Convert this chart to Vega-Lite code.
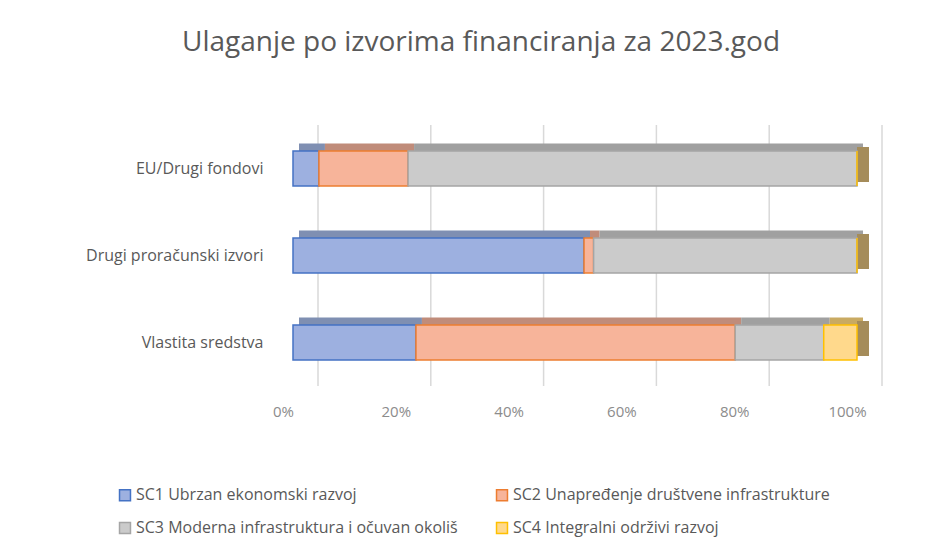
{
  "$schema": "https://vega.github.io/schema/vega-lite/v6.json",
  "width": 564,
  "height": 261,
  "autosize": "none",
  "padding": {"left": 293, "top": 125, "right": 94, "bottom": 162},
  "background": "white",
  "title": {
    "text": "Ulaganje po izvorima financiranja za 2023.god",
    "fontSize": 28,
    "font": "Open Sans",
    "fontWeight": "normal",
    "color": "#595959",
    "anchor": "middle",
    "dx": -94,
    "offset": 67
  },
  "config": {
    "view": {"stroke": null},
    "font": "Open Sans",
    "axis": {"labelColor": "#595959", "labelFontSize": 16, "domain": false, "ticks": false, "grid": false, "title": null}
  },
  "datasets": {
    "bars": [
      {"izvor": "EU/Drugi fondovi", "sc": "SC1 Ubrzan ekonomski razvoj", "pct": 4.6},
      {"izvor": "EU/Drugi fondovi", "sc": "SC2 Unapređenje društvene infrastrukture", "pct": 15.8},
      {"izvor": "EU/Drugi fondovi", "sc": "SC3 Moderna infrastruktura i očuvan okoliš", "pct": 79.6},
      {"izvor": "EU/Drugi fondovi", "sc": "SC4 Integralni održivi razvoj", "pct": 0},
      {"izvor": "Drugi proračunski izvori", "sc": "SC1 Ubrzan ekonomski razvoj", "pct": 51.6},
      {"izvor": "Drugi proračunski izvori", "sc": "SC2 Unapređenje društvene infrastrukture", "pct": 1.7},
      {"izvor": "Drugi proračunski izvori", "sc": "SC3 Moderna infrastruktura i očuvan okoliš", "pct": 46.7},
      {"izvor": "Drugi proračunski izvori", "sc": "SC4 Integralni održivi razvoj", "pct": 0},
      {"izvor": "Vlastita sredstva", "sc": "SC1 Ubrzan ekonomski razvoj", "pct": 21.8},
      {"izvor": "Vlastita sredstva", "sc": "SC2 Unapređenje društvene infrastrukture", "pct": 56.6},
      {"izvor": "Vlastita sredstva", "sc": "SC3 Moderna infrastruktura i očuvan okoliš", "pct": 15.7},
      {"izvor": "Vlastita sredstva", "sc": "SC4 Integralni održivi razvoj", "pct": 5.9}
    ],
    "grid": [{"v": 0}, {"v": 20}, {"v": 40}, {"v": 60}, {"v": 80}, {"v": 100}],
    "ends": [
      {"izvor": "EU/Drugi fondovi", "v": 100},
      {"izvor": "Drugi proračunski izvori", "v": 100},
      {"izvor": "Vlastita sredstva", "v": 100}
    ]
  },
  "layer": [
    {
      "data": {"name": "grid"},
      "mark": {"type": "rule", "color": "#D9D9D9", "strokeWidth": 1.5, "xOffset": 25},
      "encoding": {
        "x": {"field": "v", "type": "quantitative", "scale": {"domain": [0, 100]},
          "axis": {"values": [0, 20, 40, 60, 80, 100], "labelExpr": "datum.value + '%'", "labelColor": "#8C8C8C", "labelFontSize": 15, "labelPadding": 18, "labelOffset": -10, "labelFlush": false}}
      }
    },
    {
      "data": {"name": "bars"},
      "mark": {"type": "bar", "height": 8, "yOffset": -21, "xOffset": 6, "strokeWidth": 1},
      "encoding": {
        "y": {"field": "izvor", "type": "nominal", "sort": ["EU/Drugi fondovi", "Drugi proračunski izvori", "Vlastita sredstva"], "scale": {"paddingInner": 0.6, "paddingOuter": 0.3}, "axis": {"labelPadding": 30}},
        "x": {"field": "pct", "type": "quantitative", "stack": "zero"},
        "fill": {"field": "sc", "type": "nominal", "legend": null,
          "scale": {"domain": ["SC1 Ubrzan ekonomski razvoj", "SC2 Unapređenje društvene infrastrukture", "SC3 Moderna infrastruktura i očuvan okoliš", "SC4 Integralni održivi razvoj"], "range": ["#7F8FB2", "#C08C7A", "#A0A0A0", "#C9AA62"]}}
      }
    },
    {
      "data": {"name": "ends"},
      "mark": {"type": "tick", "orient": "vertical", "thickness": 12, "size": 35, "xOffset": 6, "yOffset": -4, "color": "#A58C5A", "opacity": 1},
      "encoding": {
        "y": {"field": "izvor", "type": "nominal", "sort": ["EU/Drugi fondovi", "Drugi proračunski izvori", "Vlastita sredstva"]},
        "x": {"field": "v", "type": "quantitative"}
      }
    },
    {
      "data": {"name": "bars"},
      "mark": {"type": "bar", "height": 35, "strokeWidth": 1.5},
      "encoding": {
        "y": {"field": "izvor", "type": "nominal", "sort": ["EU/Drugi fondovi", "Drugi proračunski izvori", "Vlastita sredstva"]},
        "x": {"field": "pct", "type": "quantitative", "stack": "zero"},
        "fill": {"field": "sc", "type": "nominal",
          "scale": {"domain": ["SC1 Ubrzan ekonomski razvoj", "SC2 Unapređenje društvene infrastrukture", "SC3 Moderna infrastruktura i očuvan okoliš", "SC4 Integralni održivi razvoj"], "range": ["#9DB0E0", "#F7B49A", "#CBCBCB", "#FFD98C"]},
          "legend": {"orient": "none", "legendX": -176, "legendY": 362, "direction": "horizontal", "columns": 2, "title": null, "symbolType": "square", "symbolSize": 120, "symbolStrokeWidth": 1.5, "labelFontSize": 16, "labelColor": "#595959", "labelLimit": 500, "columnPadding": 35, "rowPadding": 15, "labelOffset": 3,
            "encode": {"symbols": {"update": {"stroke": {"signal": "datum.value == 'SC1 Ubrzan ekonomski razvoj' ? '#4472C4' : datum.value == 'SC2 Unapređenje društvene infrastrukture' ? '#ED7D31' : datum.value == 'SC3 Moderna infrastruktura i očuvan okoliš' ? '#A5A5A5' : '#FFC000'"}}}}}},
        "stroke": {"field": "sc", "type": "nominal", "legend": null,
          "scale": {"domain": ["SC1 Ubrzan ekonomski razvoj", "SC2 Unapređenje društvene infrastrukture", "SC3 Moderna infrastruktura i očuvan okoliš", "SC4 Integralni održivi razvoj"], "range": ["#4472C4", "#ED7D31", "#A5A5A5", "#FFC000"]}}
      }
    }
  ],
  "resolve": {"scale": {"fill": "independent"}, "legend": {"fill": "independent"}}
}
